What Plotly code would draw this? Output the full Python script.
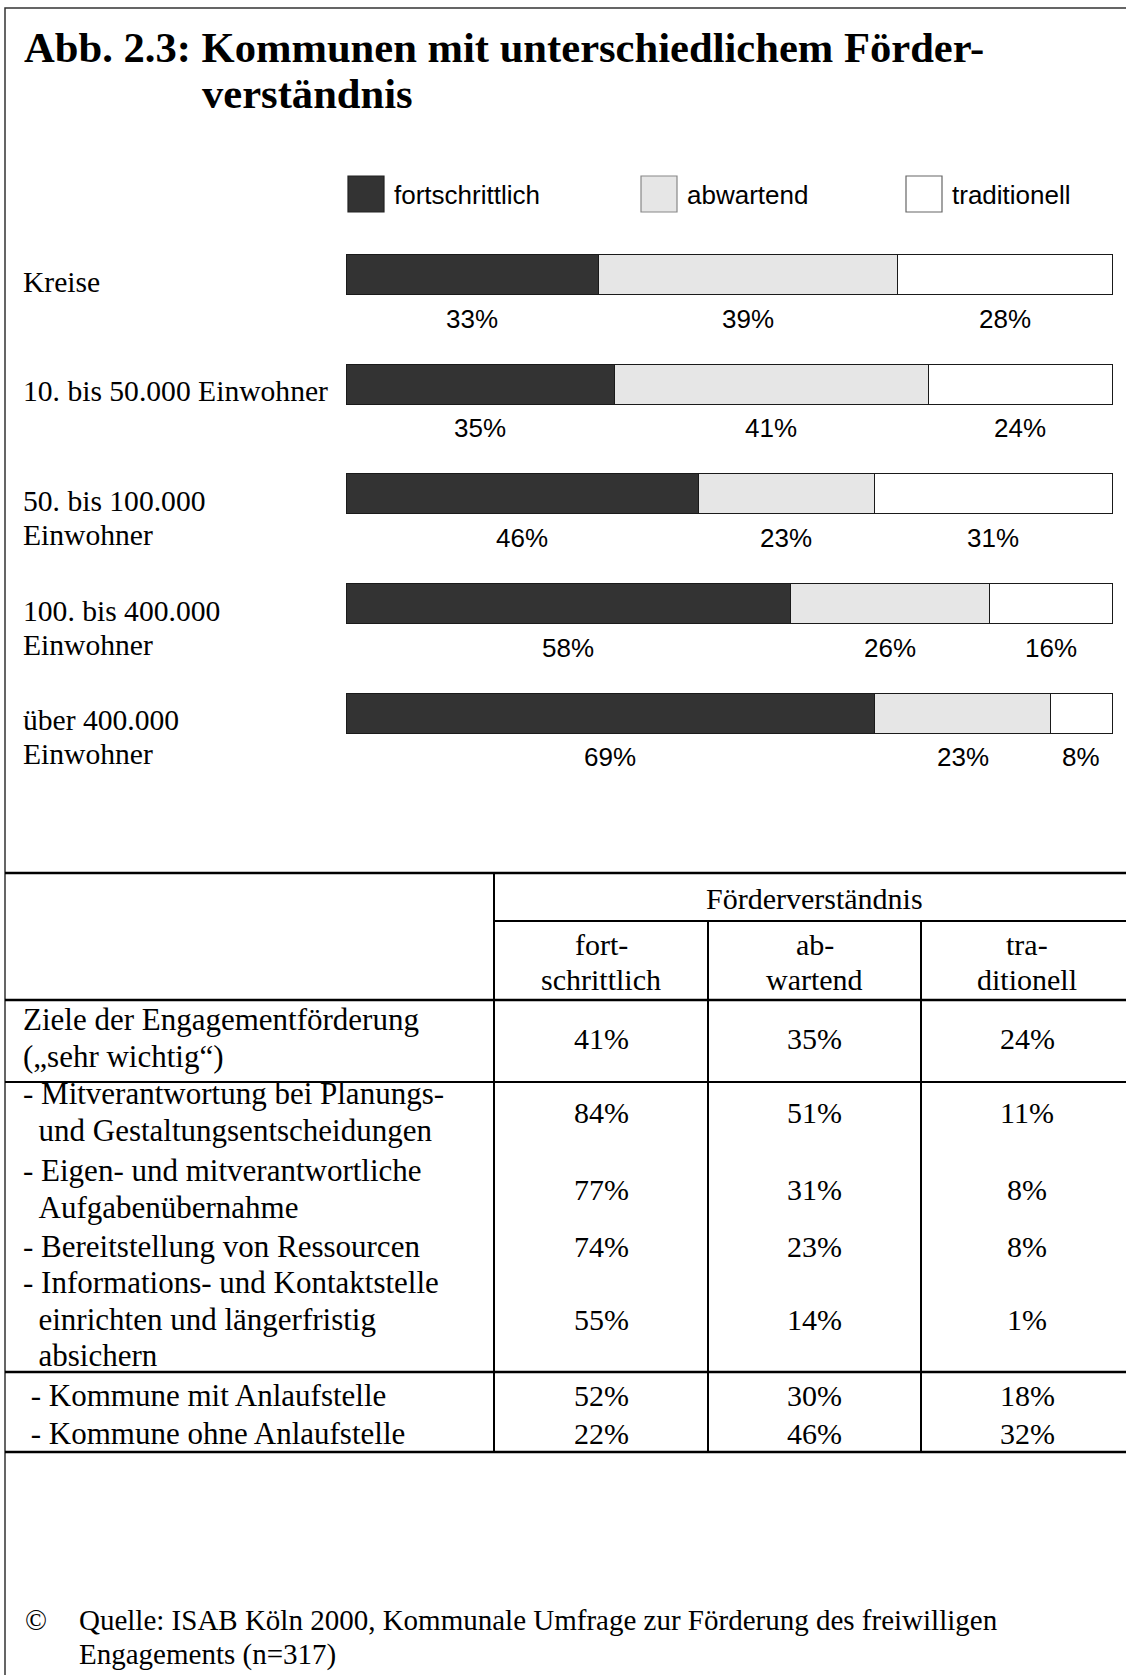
import plotly.graph_objects as go

W, H = 1126, 1675

# ---------------- data ----------------
categories = [
    "Kreise",
    "10. bis 50.000 Einwohner",
    "50. bis 100.000<br>Einwohner",
    "100. bis 400.000<br>Einwohner",
    "über 400.000<br>Einwohner",
]
series_names = ["fortschrittlich", "abwartend", "traditionell"]
fortschrittlich = [33, 35, 46, 58, 69]
abwartend = [39, 41, 23, 26, 23]
traditionell = [28, 24, 31, 16, 8]

title_line1 = "Abb. 2.3: Kommunen mit unterschiedlichem Förder-"
title_line2 = "verständnis"

table_header = "Förderverständnis"
table_columns = ["fort-<br>schrittlich", "ab-<br>wartend", "tra-<br>ditionell"]
table_rows = [
    "Ziele der Engagementförderung<br>(„sehr wichtig“)",
    "- Mitverantwortung bei Planungs-<br>\u00a0\u00a0und Gestaltungsentscheidungen",
    "- Eigen- und mitverantwortliche<br>\u00a0\u00a0Aufgabenübernahme",
    "- Bereitstellung von Ressourcen",
    "- Informations- und Kontaktstelle<br>\u00a0\u00a0einrichten und längerfristig<br>\u00a0\u00a0absichern",
    "\u00a0- Kommune mit Anlaufstelle",
    "\u00a0- Kommune ohne Anlaufstelle",
]
table_fort = [41, 84, 77, 74, 55, 52, 22]
table_abw = [35, 51, 31, 23, 14, 30, 46]
table_trad = [24, 11, 8, 8, 1, 18, 32]

source_line1 = "Quelle: ISAB Köln 2000, Kommunale Umfrage zur Förderung des freiwilligen"
source_line2 = "Engagements (n=317)"

# ---------------- styles ----------------
colors = ["#333333", "#e6e6e6", "#ffffff"]
legend_edge = ["#222222", "#888888", "#666666"]
SERIF = "Liberation Serif, Times New Roman, serif"
SANS = "Liberation Sans, Arial, sans-serif"


def px(x):
    return x / W


def py(y):
    return 1 - y / H


fig = go.Figure()
series_values = [fortschrittlich, abwartend, traditionell]
for name, vals, col in zip(series_names, series_values, colors):
    fig.add_trace(go.Bar(
        y=categories, x=vals, name=name, orientation="h",
        marker=dict(color=col, line=dict(color="#1a1a1a", width=1)),
        showlegend=False, hoverinfo="skip",
    ))

annotations = []
shapes = []

# percent labels below each segment (centred on segment)
for i, cat in enumerate(categories):
    start = 0
    for vals in series_values:
        v = vals[i]
        annotations.append(dict(
            x=start + v / 2, y=cat, xref="x", yref="y", text=f"{v}%",
            showarrow=False, yshift=-44, xanchor="center", yanchor="middle",
            font=dict(family=SANS, size=26, color="#000")))
        start += v

# row labels on the left (one annotation per text line)
ROW_LS = 34
for cat in categories:
    for k, line in enumerate(cat.split("<br>")):
        annotations.append(dict(
            x=px(21), y=cat, xref="paper", yref="y", text=line, showarrow=False,
            xanchor="left", yanchor="middle", align="left",
            yshift=-(7 + ROW_LS * k),
            font=dict(family=SERIF, size=29.6, color="#000")))

# title
annotations.append(dict(x=px(22), y=py(47.5), xref="paper", yref="paper",
                        text=f"<b>{title_line1}</b>", showarrow=False,
                        xanchor="left", yanchor="middle",
                        font=dict(family=SERIF, size=42.6, color="#000")))
annotations.append(dict(x=px(200), y=py(93.5), xref="paper", yref="paper",
                        text=f"<b>{title_line2}</b>", showarrow=False,
                        xanchor="left", yanchor="middle",
                        font=dict(family=SERIF, size=42.6, color="#000")))

# manual legend
legend_x = [348, 641, 906]
for name, col, edge, lx in zip(series_names, colors, legend_edge, legend_x):
    shapes.append(dict(type="rect", xref="paper", yref="paper",
                       x0=px(lx), x1=px(lx + 36), y0=py(212), y1=py(176),
                       fillcolor=col, line=dict(color=edge, width=1.2)))
    annotations.append(dict(x=px(lx + 44), y=py(195), xref="paper", yref="paper",
                            text=name, showarrow=False, xanchor="left",
                            yanchor="middle",
                            font=dict(family=SANS, size=26, color="#000")))

# outer frame
shapes.append(dict(type="rect", xref="paper", yref="paper",
                   x0=px(5), x1=px(W + 20), y0=py(H + 20), y1=py(8),
                   line=dict(color="#333", width=1.5), fillcolor="rgba(0,0,0,0)"))


# ---------------- table ----------------
def hline(y, x0, x1, w=2.5):
    shapes.append(dict(type="line", xref="paper", yref="paper",
                       x0=px(x0), x1=px(x1), y0=py(y), y1=py(y),
                       line=dict(color="#000", width=w)))


def vline(x, y0, y1, w=2):
    shapes.append(dict(type="line", xref="paper", yref="paper",
                       x0=px(x), x1=px(x), y0=py(y0), y1=py(y1),
                       line=dict(color="#000", width=w)))


def txt(text, x, y, xanchor="center", size=30, ls=36.5):
    lines = text.split("<br>")
    n = len(lines)
    for k, line in enumerate(lines):
        yy = y + (k - (n - 1) / 2) * ls
        annotations.append(dict(x=px(x), y=py(yy), xref="paper", yref="paper",
                                text=line, showarrow=False, xanchor=xanchor,
                                yanchor="middle", align="left",
                                font=dict(family=SERIF, size=size, color="#000")))


T_TOP, T_SUB, T_HEAD, T_GOAL, T_GRP, T_BOT = 873, 921, 1000, 1082, 1372, 1452
C0, C1, C2, RIGHT = 494, 708, 921, W + 5
hline(T_TOP, 5, RIGHT)
hline(T_SUB, C0, RIGHT, 2)
hline(T_HEAD, 5, RIGHT)
hline(T_GOAL, 5, RIGHT, 2)
hline(T_GRP, 5, RIGHT)
hline(T_BOT, 5, RIGHT)
vline(C0, T_TOP, T_BOT)
vline(C1, T_SUB, T_BOT)
vline(C2, T_SUB, T_BOT)

col_centers = [(C0 + C1) / 2, (C1 + C2) / 2, 1027]
txt(table_header, 814, 898)
for c, xc in zip(table_columns, col_centers):
    txt(c, xc, 962, ls=35)

row_centers = [1038, 1112, 1189, 1246, 1319, 1395, 1433]
for label, yc, a, b, c in zip(table_rows, row_centers, table_fort, table_abw, table_trad):
    txt(label, 21, yc, xanchor="left", size=31)
    for v, xc in zip((a, b, c), col_centers):
        txt(f"{v}%", xc, yc)

# source
txt("©", 23, 1620, xanchor="left", size=29)
txt(source_line1, 77, 1620, xanchor="left", size=29)
txt(source_line2, 77, 1654, xanchor="left", size=29)

# ---------------- layout ----------------
bar_top, bar_bottom = 219.7, 768.0
unit = (1112 - 346) / 100.0
pad = 0.3
fig.update_layout(
    width=W, height=H, margin=dict(l=0, r=0, t=0, b=0),
    paper_bgcolor="white", plot_bgcolor="white",
    barmode="stack", bargap=0.635, showlegend=False,
    xaxis=dict(domain=[px(346 - pad * unit), px(1112 + pad * unit)],
               range=[-pad, 100 + pad], visible=False),
    yaxis=dict(domain=[py(bar_bottom), py(bar_top)], type="category",
               range=[len(categories) - 0.5, -0.5], visible=False),
    annotations=annotations, shapes=shapes,
)

fig.write_html("out.html", post_script="document.body.style.margin='0';",
               config={"displayModeBar": False})
